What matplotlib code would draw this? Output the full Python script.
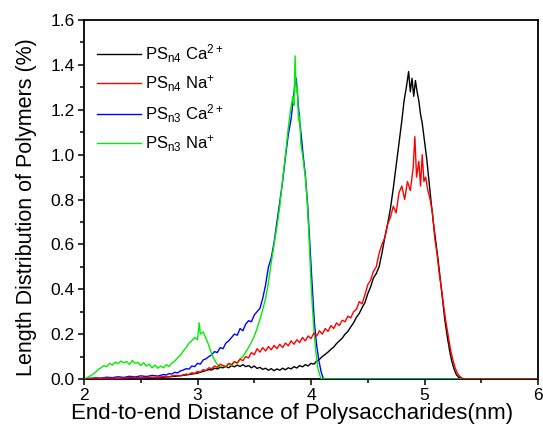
import matplotlib
matplotlib.use("Agg")
import matplotlib.pyplot as plt
from matplotlib.ticker import MultipleLocator

plt.rcParams["font.family"] = ["Liberation Sans", "DejaVu Sans"]
plt.rcParams["mathtext.fontset"] = "custom"
plt.rcParams["mathtext.rm"] = "Liberation Sans"
plt.rcParams["mathtext.it"] = "Liberation Sans:italic"

# PS n4 Ca2+ (black)
x_n4_ca = [2.0, 2.1, 2.2, 2.3, 2.4, 2.5, 2.6, 2.7, 2.75, 2.8, 2.85, 2.9, 2.95,
           3.0, 3.025, 3.05, 3.075, 3.1, 3.125, 3.15, 3.175, 3.2, 3.225, 3.25,
           3.275, 3.3, 3.325, 3.35, 3.375, 3.4, 3.425, 3.45, 3.475, 3.5, 3.525,
           3.55, 3.575, 3.6, 3.625, 3.65, 3.675, 3.7, 3.725, 3.75, 3.775, 3.8,
           3.825, 3.85, 3.875, 3.9, 3.925, 3.95, 3.975, 4.0, 4.025, 4.05, 4.075,
           4.1, 4.125, 4.15, 4.175, 4.2, 4.225, 4.25, 4.275, 4.3, 4.325, 4.35,
           4.375, 4.4, 4.425, 4.45, 4.475, 4.5, 4.525, 4.55, 4.575, 4.6, 4.625,
           4.65, 4.675, 4.7, 4.725, 4.75, 4.775, 4.8, 4.82, 4.84, 4.86, 4.875,
           4.89, 4.905, 4.92, 4.935, 4.95, 4.965, 4.98, 5.0, 5.02, 5.04, 5.06,
           5.08, 5.1, 5.12, 5.14, 5.16, 5.18, 5.2, 5.22, 5.24, 5.26, 5.28, 5.3,
           5.33, 6.0]
y_n4_ca = [0.0, 0.001, 0.002, 0.002, 0.003, 0.004, 0.005, 0.008, 0.010, 0.012,
           0.015, 0.018, 0.022, 0.026, 0.030, 0.034, 0.038, 0.042, 0.040,
           0.048, 0.045, 0.052, 0.050, 0.056, 0.050, 0.060, 0.054, 0.062,
           0.056, 0.064, 0.055, 0.060, 0.050, 0.058, 0.047, 0.052, 0.043,
           0.048, 0.039, 0.046, 0.037, 0.045, 0.039, 0.048, 0.041, 0.050,
           0.045, 0.055, 0.049, 0.060, 0.054, 0.064, 0.058, 0.070, 0.066,
           0.080, 0.088, 0.100, 0.110, 0.120, 0.132, 0.142, 0.158, 0.170,
           0.182, 0.200, 0.212, 0.232, 0.250, 0.275, 0.292, 0.318, 0.340,
           0.380, 0.410, 0.450, 0.470, 0.500, 0.560, 0.630, 0.690, 0.760,
           0.850, 0.950, 1.050, 1.150, 1.240, 1.300, 1.370, 1.280, 1.340,
           1.260, 1.330, 1.280, 1.240, 1.180, 1.140, 1.060, 0.980, 0.880,
           0.780, 0.690, 0.610, 0.530, 0.440, 0.350, 0.260, 0.190, 0.130,
           0.080, 0.045, 0.020, 0.008, 0.0, 0.0]

# PS n4 Na+ (red)
x_n4_na = [2.0, 2.1, 2.2, 2.3, 2.4, 2.5, 2.6, 2.65, 2.7, 2.75, 2.8, 2.85, 2.9,
           2.925, 2.95, 2.975, 3.0, 3.025, 3.05, 3.075, 3.1, 3.125, 3.15,
           3.175, 3.2, 3.225, 3.25, 3.275, 3.3, 3.325, 3.35, 3.375, 3.4,
           3.425, 3.45, 3.475, 3.5, 3.525, 3.55, 3.575, 3.6, 3.625, 3.65,
           3.675, 3.7, 3.725, 3.75, 3.775, 3.8, 3.825, 3.85, 3.875, 3.9,
           3.925, 3.95, 3.975, 4.0, 4.025, 4.05, 4.075, 4.1, 4.125, 4.15,
           4.175, 4.2, 4.225, 4.25, 4.275, 4.3, 4.325, 4.35, 4.375, 4.4,
           4.425, 4.45, 4.475, 4.5, 4.525, 4.55, 4.575, 4.6, 4.625, 4.65,
           4.675, 4.7, 4.725, 4.75, 4.775, 4.8, 4.825, 4.85, 4.875, 4.9,
           4.915, 4.93, 4.95, 4.965, 4.98, 4.995, 5.01, 5.03, 5.05, 5.07,
           5.09, 5.11, 5.13, 5.15, 5.17, 5.19, 5.21, 5.23, 5.25, 5.27, 5.29,
           5.31, 5.33, 5.36, 6.0]
y_n4_na = [0.0, 0.002, 0.004, 0.003, 0.006, 0.005, 0.008, 0.006, 0.012, 0.010,
           0.016, 0.014, 0.022, 0.020, 0.028, 0.025, 0.034, 0.030, 0.042,
           0.038, 0.050, 0.046, 0.058, 0.052, 0.066, 0.060, 0.055, 0.070,
           0.064, 0.078, 0.072, 0.088, 0.082, 0.100, 0.094, 0.118, 0.108,
           0.135, 0.120, 0.140, 0.125, 0.145, 0.130, 0.150, 0.135, 0.155,
           0.140, 0.160, 0.148, 0.170, 0.155, 0.175, 0.162, 0.185, 0.170,
           0.192, 0.180, 0.205, 0.192, 0.215, 0.200, 0.225, 0.212, 0.238,
           0.225, 0.250, 0.238, 0.262, 0.255, 0.280, 0.272, 0.300, 0.310,
           0.345, 0.335, 0.375, 0.420, 0.440, 0.480, 0.500, 0.560, 0.600,
           0.630, 0.690, 0.720, 0.770, 0.740, 0.830, 0.860, 0.800, 0.880,
           0.840, 0.940, 1.080, 0.900, 0.970, 0.860, 1.000, 0.880, 0.900,
           0.840, 0.800, 0.740, 0.630, 0.560, 0.470, 0.400, 0.320, 0.250,
           0.190, 0.130, 0.085, 0.050, 0.025, 0.012, 0.004, 0.0, 0.0]

# PS n3 Ca2+ (blue)
x_n3_ca = [2.0, 2.05, 2.1, 2.15, 2.2, 2.25, 2.3, 2.35, 2.4, 2.45, 2.5, 2.55,
           2.6, 2.65, 2.7, 2.725, 2.75, 2.775, 2.8, 2.825, 2.85, 2.875, 2.9,
           2.925, 2.95, 2.975, 3.0, 3.025, 3.05, 3.075, 3.1, 3.125, 3.15,
           3.175, 3.2, 3.225, 3.25, 3.275, 3.3, 3.325, 3.35, 3.375, 3.4,
           3.425, 3.45, 3.475, 3.5, 3.525, 3.55, 3.575, 3.6, 3.625, 3.65,
           3.675, 3.7, 3.725, 3.75, 3.775, 3.8, 3.825, 3.84, 3.855, 3.87,
           3.885, 3.9, 3.915, 3.93, 3.95, 3.97, 3.99, 4.01, 4.03, 4.05, 4.07,
           4.09, 4.11, 6.0]
y_n3_ca = [0.0, 0.003, 0.005, 0.004, 0.008, 0.006, 0.010, 0.007, 0.012, 0.009,
           0.014, 0.011, 0.016, 0.013, 0.020, 0.018, 0.024, 0.022, 0.030,
           0.027, 0.036, 0.040, 0.046, 0.044, 0.058, 0.055, 0.070, 0.066,
           0.085, 0.090, 0.100, 0.108, 0.122, 0.118, 0.140, 0.135, 0.160,
           0.170, 0.185, 0.200, 0.195, 0.225, 0.215, 0.245, 0.260, 0.255,
           0.285, 0.300, 0.315, 0.360, 0.420, 0.500, 0.540, 0.610, 0.700,
           0.790, 0.880, 0.990, 1.090, 1.160, 1.230, 1.300, 1.340, 1.240,
           1.150, 1.080, 1.000, 0.910, 0.780, 0.600, 0.420, 0.250, 0.150,
           0.080, 0.030, 0.0, 0.0]

# PS n3 Na+ (green)
x_n3_na = [2.0, 2.025, 2.05, 2.075, 2.1, 2.125, 2.15, 2.175, 2.2, 2.225, 2.25,
           2.275, 2.3, 2.325, 2.35, 2.375, 2.4, 2.425, 2.45, 2.475, 2.5, 2.525,
           2.55, 2.575, 2.6, 2.625, 2.65, 2.675, 2.7, 2.725, 2.75, 2.775, 2.8,
           2.825, 2.85, 2.875, 2.9, 2.925, 2.95, 2.975, 3.0, 3.015, 3.025,
           3.05, 3.075, 3.1, 3.125, 3.15, 3.175, 3.2, 3.225, 3.25, 3.275, 3.3,
           3.325, 3.35, 3.375, 3.4, 3.425, 3.45, 3.475, 3.5, 3.525, 3.55,
           3.575, 3.6, 3.625, 3.65, 3.675, 3.7, 3.725, 3.75, 3.775, 3.8, 3.82,
           3.84, 3.85, 3.86, 3.87, 3.88, 3.89, 3.9, 3.91, 3.925, 3.95, 3.965,
           3.98, 4.0, 4.015, 4.03, 4.045, 4.06, 4.075, 4.09, 6.0]
y_n3_na = [0.0, 0.005, 0.012, 0.020, 0.030, 0.042, 0.050, 0.060, 0.055, 0.070,
           0.062, 0.075, 0.068, 0.080, 0.072, 0.078, 0.065, 0.082, 0.070,
           0.074, 0.060, 0.072, 0.058, 0.066, 0.050, 0.062, 0.048, 0.058,
           0.050, 0.064, 0.055, 0.072, 0.080, 0.095, 0.105, 0.125, 0.140,
           0.160, 0.170, 0.185, 0.175, 0.250, 0.200, 0.210, 0.180, 0.150,
           0.110, 0.085, 0.065, 0.055, 0.060, 0.052, 0.066, 0.060, 0.075,
           0.070, 0.090, 0.100, 0.120, 0.140, 0.165, 0.190, 0.225, 0.265,
           0.310, 0.360, 0.430, 0.520, 0.600, 0.680, 0.770, 0.890, 1.000,
           1.120, 1.200, 1.260, 1.220, 1.440, 1.280, 1.300, 1.150, 1.170,
           1.050, 1.000, 0.900, 0.800, 0.660, 0.430, 0.300, 0.190, 0.110,
           0.050, 0.020, 0.0, 0.0]

labels = [r"$\mathrm{PS_{n4}\ Ca^{2+}}$", r"$\mathrm{PS_{n4}\ Na^{+}}$",
          r"$\mathrm{PS_{n3}\ Ca^{2+}}$", r"$\mathrm{PS_{n3}\ Na^{+}}$"]
colors = ["#000000", "#ff0000", "#0000ff", "#00ee00"]
zorders = [2, 5, 3, 4]

fig = plt.figure(figsize=(5.43, 4.28), dpi=100)
ax = fig.add_axes([84 / 543, 49 / 428, 454 / 543, 359 / 428])

series = [(x_n4_ca, y_n4_ca), (x_n4_na, y_n4_na),
          (x_n3_ca, y_n3_ca), (x_n3_na, y_n3_na)]
for (xs, ys), lab, c, z in zip(series, labels, colors, zorders):
    ax.plot(xs, ys, color=c, lw=1.0, label=lab, zorder=z)

ax.set_xlim(2, 6)
ax.set_ylim(0, 1.6)
ax.xaxis.set_major_locator(MultipleLocator(1))
ax.xaxis.set_minor_locator(MultipleLocator(0.5))
ax.yaxis.set_major_locator(MultipleLocator(0.2))
ax.yaxis.set_minor_locator(MultipleLocator(0.1))
ax.tick_params(which="both", direction="out", top=False, right=False,
               labelsize=12.5, width=1.1)
ax.tick_params(which="major", length=4.5, pad=2)
ax.tick_params(which="minor", length=2.8)
for s in ax.spines.values():
    s.set_linewidth(1.3)

ax.set_xlabel("End-to-end Distance of Polysaccharides(nm)", fontsize=16,
              labelpad=0)
ax.xaxis.label.set_x(0.458)
ax.set_ylabel("Length Distribution of Polymers (%)", fontsize=15.5, labelpad=10)
ax.yaxis.label.set_y(0.479)

leg = ax.legend(loc="upper left", bbox_to_anchor=(0.0, 0.975), frameon=False,
                fontsize=12, handlelength=2.6, handletextpad=0.25,
                labelspacing=0.5, borderaxespad=0.4)

fig.savefig("out.png", dpi=100)
